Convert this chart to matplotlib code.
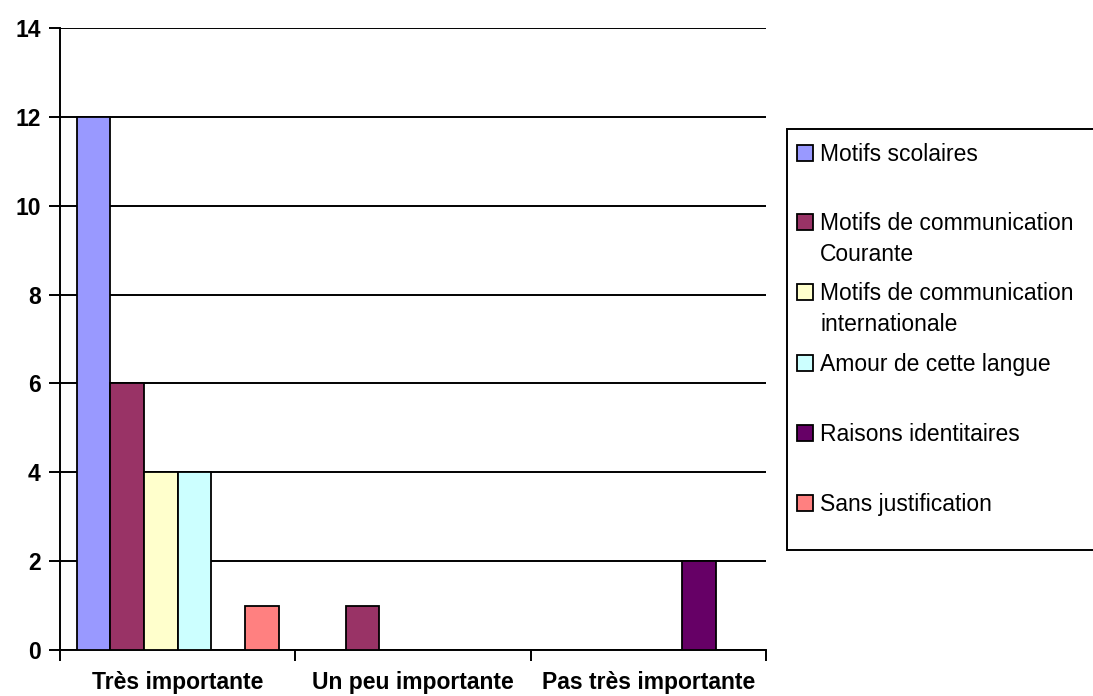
import matplotlib.pyplot as plt
from matplotlib.patches import Rectangle
import numpy as np

# categories on the x axis and one value list per series
categories = ['Très importante', 'Un peu importante', 'Pas très importante']
series_names = ['Motifs scolaires',
                'Motifs de communication\nCourante',
                'Motifs de communication\ninternationale',
                'Amour de cette langue',
                'Raisons identitaires',
                'Sans justification']
motifs_scolaires = [12, 0, 0]
motifs_courante = [6, 1, 0]
motifs_internationale = [4, 0, 0]
amour_langue = [4, 0, 0]
raisons_identitaires = [0, 0, 2]
sans_justification = [1, 0, 0]
series_values = [motifs_scolaires, motifs_courante, motifs_internationale,
                 amour_langue, raisons_identitaires, sans_justification]
colors = ['#9999FF', '#993366', '#FFFFCC', '#CCFFFF', '#660066', '#FF8080']

plt.rcParams['font.family'] = ['Liberation Sans', 'DejaVu Sans']

fig = plt.figure(figsize=(10.93, 6.96), dpi=100)
W, H = 1093, 696
ax = fig.add_axes([60 / W, 1 - 650 / H, 706 / W, 622 / H])

# grouped bars, six per category
x = np.arange(len(categories))
bar_w = 0.143
n = len(series_values)
for i, (vals, col) in enumerate(zip(series_values, colors)):
    offs = (i - (n - 1) / 2) * bar_w
    ax.bar(x + offs, vals, bar_w, color=col, edgecolor='black', linewidth=1.3, zorder=3)

ax.set_xlim(-0.5, len(categories) - 0.5)
ax.set_ylim(0, 14)
ax.set_yticks(np.arange(0, 15, 2))
ax.yaxis.grid(True, color='black', linewidth=1.4, zorder=0)
ax.set_axisbelow(True)

# category labels centred, tick marks on the group boundaries
ax.set_xticks(x)
ax.set_xticklabels(categories, fontsize=16.5, fontweight='bold')
ax.tick_params(axis='x', which='major', length=0, pad=15)
ax.set_xticks(np.arange(-0.5, len(categories), 1), minor=True)
ax.tick_params(axis='x', which='minor', length=8, width=1.4, direction='out')
ax.tick_params(axis='y', length=8, width=1.4, pad=6, labelsize=16.5)
for lab in ax.get_yticklabels():
    lab.set_fontweight('bold')

for side in ['top', 'right']:
    ax.spines[side].set_visible(False)
for side in ['left', 'bottom']:
    ax.spines[side].set_linewidth(1.4)

# legend box on the right, cut off by the figure edge
fig.add_artist(Rectangle((787 / W, 1 - 550 / H), 320 / W, 421 / H,
                         transform=fig.transFigure, facecolor='white',
                         edgecolor='black', linewidth=1.4, clip_on=False))
entry_y = [153, 222, 292, 363, 433, 503]
for name, col, yy in zip(series_names, colors, entry_y):
    fig.add_artist(Rectangle((797 / W, 1 - (yy + 8) / H), 16 / W, 16 / H,
                             transform=fig.transFigure, facecolor=col,
                             edgecolor='black', linewidth=1.3))
    fig.text(820 / W, 1 - (yy - 10) / H, name, fontsize=16.5, va='top',
             ha='left', linespacing=1.47)

plt.savefig('out.png', dpi=100)
